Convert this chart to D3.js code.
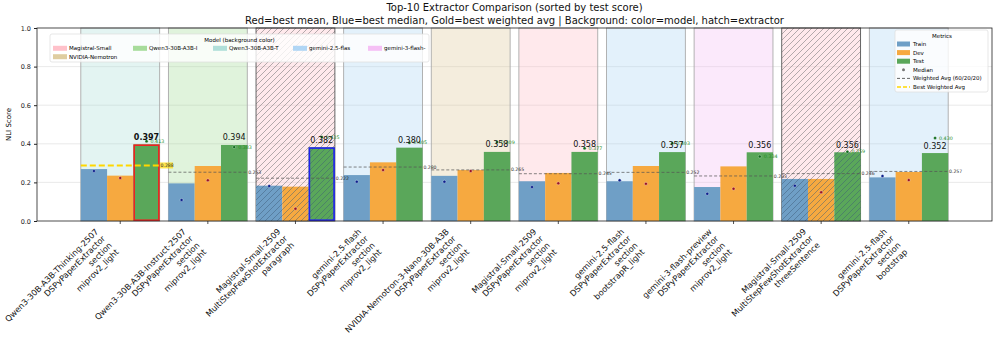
<!DOCTYPE html>
<html>
<head>
<meta charset="utf-8">
<script src="https://cdn.jsdelivr.net/npm/d3@7"></script>
<style>
  body { margin: 0; background: #fff; }
  svg { display: block; font-family: "DejaVu Sans", sans-serif; }
</style>
</head>
<body>
<div id="chart"></div>
<script>
// Top-10 extractor comparison
const models = ["Qwen3-30B-A3B-Thinking-2507", "Qwen3-30B-A3B-Instruct-2507", "Magistral-Small-2509",
  "gemini-2.5-flash", "NVIDIA-Nemotron-3-Nano-30B-A3B", "Magistral-Small-2509", "gemini-2.5-flash",
  "gemini-3-flash-preview", "Magistral-Small-2509", "gemini-2.5-flash"];
const extractors = ["DSPyPaperExtractor", "DSPyPaperExtractor", "MultiStepFewShotExtractor",
  "DSPyPaperExtractor", "DSPyPaperExtractor", "DSPyPaperExtractor", "DSPyPaperExtractor",
  "DSPyPaperExtractor", "MultiStepFewShotExtractor", "DSPyPaperExtractor"];
const chunkings = ["section", "section", "paragraph", "section", "section", "section", "section",
  "section", "threeSentence", "section"];
const optimizers = ["miprov2_light", "miprov2_light", "", "miprov2_light", "miprov2_light",
  "miprov2_light", "bootstrapR_light", "miprov2_light", "", "bootstrap"];
// background colour key per group
const modelKeys = ["Qwen3-30B-A3B-T", "Qwen3-30B-A3B-I", "Magistral-Small", "gemini-2.5-flas",
  "NVIDIA-Nemotron", "Magistral-Small", "gemini-2.5-flas", "gemini-3-flash-", "Magistral-Small",
  "gemini-2.5-flas"];

const trainMean = [0.269, 0.195, 0.183, 0.238, 0.234, 0.206, 0.206, 0.176, 0.218, 0.226];
const devMean = [0.235, 0.285, 0.178, 0.304, 0.264, 0.249, 0.285, 0.283, 0.218, 0.254];
const testMean = [0.397, 0.394, 0.382, 0.380, 0.358, 0.358, 0.357, 0.356, 0.356, 0.352];
const trainMedian = [0.259, 0.109, 0.181, 0.204, 0.204, 0.176, 0.211, 0.141, 0.183, 0.233];
const devMedian = [0.223, 0.211, 0.064, 0.264, 0.259, 0.195, 0.193, 0.167, 0.149, 0.212];
const testMedian = [0.413, 0.383, 0.435, 0.405, 0.409, 0.377, 0.403, 0.334, 0.359, 0.430];

const legendModels = ["Magistral-Small", "Qwen3-30B-A3B-I", "Qwen3-30B-A3B-T", "gemini-2.5-flas",
  "gemini-3-flash-", "NVIDIA-Nemotron"];
const modelColors = ["#ffb6c1", "#98d68a", "#a3d9d4", "#a3cff3", "#f3b5f3", "#d9c48f"];
const yTicks = [0, 0.2, 0.4, 0.6, 0.8, 1.0];

const W = 997, H = 357;
const plot = { left: 37, right: 992, top: 28, bottom: 221 };

const colTrain = "#6f9fc6", colDev = "#f6a940", colTest = "#5aa75a";

const svg = d3.select("#chart").append("svg").attr("width", W).attr("height", H);

// hatch patterns
const defs = svg.append("defs");
function hatch(id, color, w) {
  defs.append("pattern").attr("id", id).attr("patternUnits", "userSpaceOnUse")
    .attr("width", 6).attr("height", 6)
    .append("path").attr("d", "M-1,1 l2,-2 M0,6 l6,-6 M5,7 l2,-2")
    .attr("stroke", color).attr("stroke-width", w);
}
hatch("hatchBg", "#777", 0.7);
hatch("hatchBar", "#3d5a75", 0.6);

const x = d3.scaleLinear().domain([-0.95, 9.95]).range([plot.left, plot.right]);
const y = d3.scaleLinear().domain([0, 1]).range([plot.bottom, plot.top]);
const colorOf = d3.scaleOrdinal().domain(legendModels).range(modelColors);

const idx = d3.range(models.length);
const weighted = idx.map(i => 0.6 * trainMean[i] + 0.2 * devMean[i] + 0.2 * testMean[i]);
const bestMean = d3.maxIndex(testMean);
const bestMedian = d3.maxIndex(testMedian);
const bestWeighted = d3.maxIndex(weighted);
const hatched = i => extractors[i] === "MultiStepFewShotExtractor";

// grid
svg.append("g").selectAll("line").data(yTicks.slice(1, -1)).join("line")
  .attr("x1", plot.left).attr("x2", plot.right)
  .attr("y1", d => y(d)).attr("y2", d => y(d))
  .attr("stroke", "#e4e4e4").attr("stroke-width", 0.8);

// background spans per group
const bw = 0.3;
const bg = svg.append("g");
idx.forEach(i => {
  const rx = x(i - 0.45), rw = x(i + 0.45) - x(i - 0.45);
  bg.append("rect").attr("x", rx).attr("y", y(1)).attr("width", rw).attr("height", y(0) - y(1))
    .attr("fill", colorOf(modelKeys[i])).attr("fill-opacity", 0.3);
  if (hatched(i)) {
    bg.append("rect").attr("x", rx).attr("y", y(1)).attr("width", rw).attr("height", y(0) - y(1))
      .attr("fill", "url(#hatchBg)").attr("opacity", 0.8);
  }
  bg.append("rect").attr("x", rx).attr("y", y(1)).attr("width", rw).attr("height", y(0) - y(1))
    .attr("fill", "none").attr("stroke", hatched(i) ? "#555" : "#aaa").attr("stroke-width", 0.9);
});

// bars
const series = [
  { mean: trainMean, median: trainMedian, color: colTrain, off: -bw, dot: "#0b1f8c" },
  { mean: devMean, median: devMedian, color: colDev, off: 0, dot: "#9b1420" },
  { mean: testMean, median: testMedian, color: colTest, off: bw, dot: "#0d6b1a" }
];
const bars = svg.append("g");
series.forEach((s, k) => {
  idx.forEach(i => {
    const cx = i + s.off;
    const r = bars.append("rect")
      .attr("x", x(cx - bw / 2)).attr("width", x(cx + bw / 2) - x(cx - bw / 2))
      .attr("y", y(s.mean[i])).attr("height", y(0) - y(s.mean[i]))
      .attr("fill", s.color);
    if (hatched(i)) {
      bars.append("rect")
        .attr("x", x(cx - bw / 2)).attr("width", x(cx + bw / 2) - x(cx - bw / 2))
        .attr("y", y(s.mean[i])).attr("height", y(0) - y(s.mean[i]))
        .attr("fill", "url(#hatchBar)").attr("opacity", 0.8);
    }
    if (k === 2 && (i === bestMean || i === bestMedian)) {
      bars.append("rect")
        .attr("x", x(cx - bw / 2) + 0.8).attr("width", x(cx + bw / 2) - x(cx - bw / 2) - 1.6)
        .attr("y", y(s.mean[i]) + 0.8).attr("height", y(0) - y(s.mean[i]) - 1.6)
        .attr("fill", "none").attr("stroke", i === bestMean ? "#f02020" : "#2020f0")
        .attr("stroke-width", 1.6);
    }
  });
});

// weighted avg lines
const wg = svg.append("g");
idx.forEach(i => {
  const best = i === bestWeighted;
  wg.append("line")
    .attr("x1", x(i - 0.45)).attr("x2", x(i + 0.45))
    .attr("y1", y(weighted[i])).attr("y2", y(weighted[i]))
    .attr("stroke", best ? "#ffd700" : "#555").attr("stroke-opacity", best ? 1 : 0.8)
    .attr("stroke-width", best ? 2 : 0.9)
    .attr("stroke-dasharray", best ? "6,3" : "3,2");
  if (best) {
    wg.append("rect").attr("x", x(i + 0.46) - 0.5).attr("y", y(weighted[i]) - 3)
      .attr("width", 13).attr("height", 6).attr("fill", "#ffd700").attr("opacity", 0.7);
  }
  wg.append("text").attr("x", x(i + 0.46)).attr("y", y(weighted[i]) + 1.6)
    .attr("font-size", 4.6).attr("fill", "#333").text(weighted[i].toFixed(3));
});

// medians
const mg = svg.append("g");
series.forEach((s, k) => {
  idx.forEach(i => {
    const cx = x(i + s.off);
    mg.append("circle").attr("cx", cx).attr("cy", y(s.median[i])).attr("r", 1.5)
      .attr("fill", s.dot).attr("stroke", "#fff").attr("stroke-width", 0.3);
    if (k === 2) {
      mg.append("text").attr("x", cx + 4).attr("y", y(s.median[i]) + 1.6)
        .attr("font-size", 4.8).attr("fill", "#228b22").text(s.median[i].toFixed(3));
    }
  });
});

// mean labels above test bars
svg.append("g").selectAll("text").data(idx).join("text")
  .attr("x", i => x(i + bw)).attr("y", i => y(testMean[i]) - 4.5)
  .attr("text-anchor", "middle").attr("font-size", 8)
  .attr("font-weight", i => i === bestMean ? "bold" : "normal")
  .attr("fill", "#111")
  .text(i => testMean[i].toFixed(3));

// frame
svg.append("rect").attr("x", plot.left).attr("y", plot.top)
  .attr("width", plot.right - plot.left).attr("height", plot.bottom - plot.top)
  .attr("fill", "none").attr("stroke", "#222").attr("stroke-width", 0.8);

// y axis
const yAxis = svg.append("g").attr("transform", `translate(${plot.left},0)`)
  .call(d3.axisLeft(y).tickValues(yTicks).tickFormat(d3.format(".1f")).tickSize(3));
yAxis.select(".domain").remove();
yAxis.selectAll("text").attr("font-size", 6.5).attr("font-family", "DejaVu Sans").attr("fill", "#222");
yAxis.selectAll("line").attr("stroke", "#222");

svg.append("text").attr("transform", `translate(11,${(plot.top + plot.bottom) / 2}) rotate(-90)`)
  .attr("text-anchor", "middle").attr("font-size", 7).text("NLI Score");

// x ticks
svg.append("g").selectAll("line").data(idx).join("line")
  .attr("x1", i => x(i)).attr("x2", i => x(i))
  .attr("y1", plot.bottom).attr("y2", plot.bottom + 3)
  .attr("stroke", "#222").attr("stroke-width", 0.8);

// rotated multi-line x labels, right/top aligned to tick
const xl = svg.append("g");
idx.forEach(i => {
  const lines = [models[i], extractors[i], chunkings[i], optimizers[i]].filter(d => d);
  const outer = xl.append("g");
  const t = outer.append("g").attr("transform", "rotate(-45)")
    .append("text").attr("text-anchor", "end").attr("font-size", 8.2).attr("fill", "#111");
  lines.forEach((ln, j) => {
    t.append("tspan").attr("x", 0).attr("y", j * 9.6).text(ln);
  });
  const bb = outer.node().getBBox();
  outer.attr("transform", `translate(${x(i) + 1 - (bb.x + bb.width)},${plot.bottom + 5 - bb.y})`);
});

// title
const title = svg.append("text").attr("text-anchor", "middle").attr("font-size", 10).attr("fill", "#111");
title.append("tspan").attr("x", (plot.left + plot.right) / 2).attr("y", 11)
  .text("Top-10 Extractor Comparison (sorted by test score)");
title.append("tspan").attr("x", (plot.left + plot.right) / 2).attr("y", 24)
  .text("Red=best mean, Blue=best median, Gold=best weighted avg | Background: color=model, hatch=extractor");

// model legend
const lg = svg.append("g");
lg.append("rect").attr("x", 50).attr("y", 34).attr("width", 379).attr("height", 28).attr("rx", 2)
  .attr("fill", "#fff").attr("fill-opacity", 0.8).attr("stroke", "#ddd").attr("stroke-width", 0.7);
lg.append("text").attr("x", 239.5).attr("y", 42).attr("text-anchor", "middle")
  .attr("font-size", 5.5).text("Model (background color)");
const legX = [53, 133, 213, 293, 368, 53];
const legY = [48.3, 48.3, 48.3, 48.3, 48.3, 56.7];
legendModels.forEach((m, j) => {
  lg.append("rect").attr("x", legX[j]).attr("y", legY[j] - 2.5).attr("width", 14).attr("height", 5)
    .attr("fill", colorOf(m)).attr("opacity", 0.85);
  lg.append("text").attr("x", legX[j] + 16).attr("y", legY[j] + 2)
    .attr("font-size", 5.5).text(m);
});

// metrics legend
const ml = svg.append("g");
ml.append("rect").attr("x", 895).attr("y", 30).attr("width", 93).attr("height", 62).attr("rx", 2)
  .attr("fill", "#fff").attr("fill-opacity", 0.8).attr("stroke", "#ddd").attr("stroke-width", 0.7);
ml.append("text").attr("x", 942).attr("y", 37.5).attr("text-anchor", "middle")
  .attr("font-size", 5.5).text("Metrics");
const metricItems = [
  { label: "Train", kind: "patch", color: colTrain },
  { label: "Dev", kind: "patch", color: colDev },
  { label: "Test", kind: "patch", color: colTest },
  { label: "Median", kind: "dot", color: "#777" },
  { label: "Weighted Avg (60/20/20)", kind: "dash", color: "#555" },
  { label: "Best Weighted Avg", kind: "gold", color: "#ffd700" }
];
metricItems.forEach((d, j) => {
  const cy = 44 + j * 8.6;
  if (d.kind === "patch") {
    ml.append("rect").attr("x", 897).attr("y", cy - 2.5).attr("width", 13).attr("height", 5).attr("fill", d.color);
  } else if (d.kind === "dot") {
    ml.append("circle").attr("cx", 903.5).attr("cy", cy).attr("r", 1.5).attr("fill", d.color);
  } else {
    ml.append("line").attr("x1", 897).attr("x2", 910).attr("y1", cy).attr("y2", cy)
      .attr("stroke", d.color).attr("stroke-width", d.kind === "gold" ? 1.6 : 0.9)
      .attr("stroke-dasharray", d.kind === "gold" ? "4,2" : "3,2");
  }
  ml.append("text").attr("x", 913).attr("y", cy + 2).attr("font-size", 5.5).text(d.label);
});
</script>
</body>
</html>
